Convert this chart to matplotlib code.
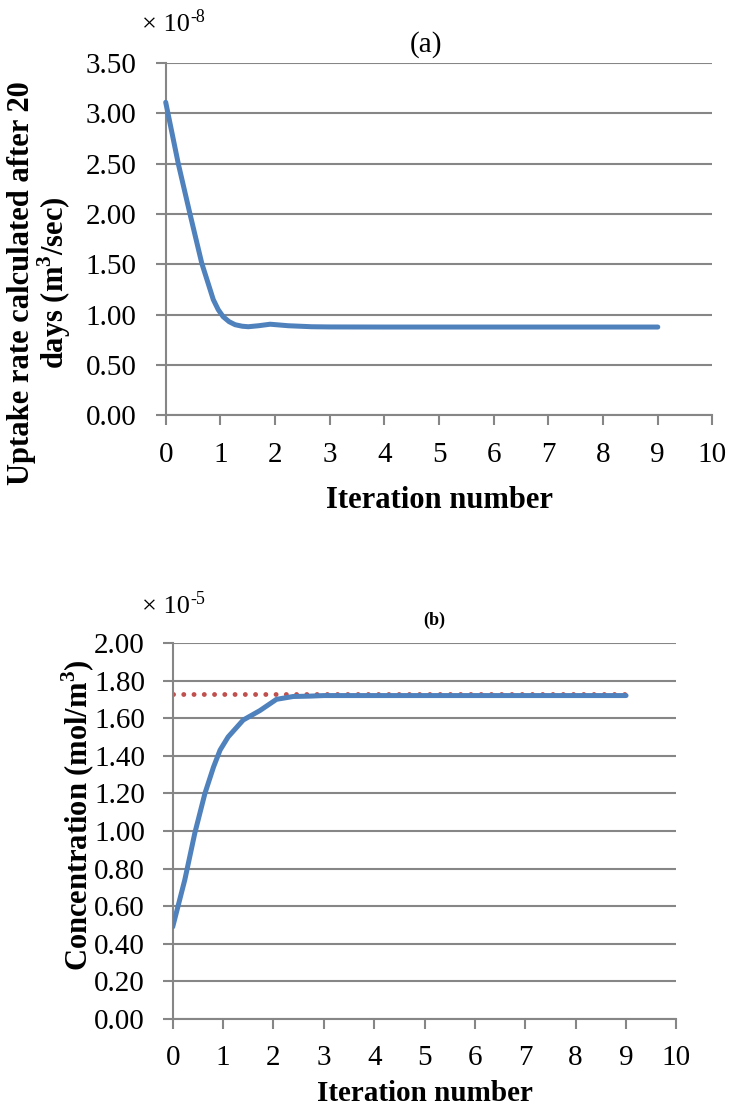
import numpy as np
import matplotlib
matplotlib.use("Agg")
import matplotlib.pyplot as plt

plt.rcParams['font.family'] = ['Liberation Serif', 'DejaVu Serif']
plt.rcParams['mathtext.fontset'] = 'custom'
plt.rcParams['mathtext.rm'] = 'Liberation Serif'
plt.rcParams['mathtext.bf'] = 'Liberation Serif:bold'

# (a) uptake rate, in units of 1e-8 m3/sec
iter_a = [0, 0.23, 0.44, 0.66, 0.87, 0.96, 1.05, 1.16, 1.27, 1.40, 1.51, 1.70, 1.91,
          2.24, 2.67, 3, 4, 5, 6, 7, 8, 9]
uptake_a = [3.11, 2.50, 2.01, 1.51, 1.15, 1.05, 0.98, 0.93, 0.90, 0.885, 0.88, 0.89, 0.905,
            0.89, 0.88, 0.878, 0.877, 0.877, 0.877, 0.877, 0.877, 0.877]

# (b) concentration, in units of 1e-5 mol/m3
iter_b = [0, 0.24, 0.44, 0.64, 0.81, 0.94, 1.10, 1.40, 1.73, 2.06, 2.39, 2.72,
          3, 4, 5, 6, 7, 8, 9]
conc_b = [0.49, 0.74, 0.99, 1.20, 1.34, 1.43, 1.50, 1.59, 1.64, 1.70, 1.715, 1.717,
          1.72, 1.72, 1.72, 1.72, 1.72, 1.72, 1.72]
ref_x = [0, 9]
ref_conc = [1.727, 1.727]

xticks = list(range(0, 11))
yticks_a = np.arange(0, 3.51, 0.5)
yticks_b = np.arange(0, 2.01, 0.2)

blue = '#4F81BD'
red = '#C0504D'
gray = '#868686'

fig = plt.figure(figsize=(7.3, 11.06), dpi=100)
ax1 = fig.add_axes([0.227, 0.6245, 0.749, 0.3185])
ax2 = fig.add_axes([0.2366, 0.0787, 0.690, 0.340])
renderer = fig.canvas.get_renderer()


def style(ax, yt, ymax, ypad):
    ax.set_xlim(0, 10)
    ax.set_ylim(0, ymax)
    ax.set_xticks(xticks)
    ax.set_yticks(yt)
    ax.set_yticklabels(['%.2f' % v for v in yt])
    for s in ['top', 'right']:
        ax.spines[s].set_visible(False)
    for s in ['left', 'bottom']:
        ax.spines[s].set_color(gray)
        ax.spines[s].set_linewidth(1.5)
    ax.grid(axis='y', color=gray, linewidth=1.5)
    ax.set_axisbelow(True)
    ax.tick_params(axis='both', colors=gray, width=1.5, length=7,
                   labelsize=21, labelcolor='black')
    ax.tick_params(axis='y', pad=ypad)
    ax.tick_params(axis='x', pad=12)


def exponent(x, y, power):
    t = fig.text(x, y, '\u00d7 10', fontsize=19, ha='left', va='center')
    bb = t.get_window_extent(renderer)
    fig.text((bb.x1 + 1) / 730, y + 7 / 1106, power, fontsize=13,
             ha='left', va='center')


style(ax1, yticks_a, 3.5, 14)
ax1.plot(iter_a, uptake_a, color=blue, linewidth=3.6, solid_capstyle='round',
         solid_joinstyle='round', clip_on=False, zorder=3)
ax1.set_xlabel('Iteration number', fontsize=22, fontweight='bold', labelpad=13)
fig.text(0.583, 1 - 45 / 1106, '(a)', fontsize=21, ha='center', va='center')
exponent(142 / 730, 1 - 25 / 1106, '-8')
fig.text(0.055, 1 - 283 / 1106, 'Uptake rate calculated after 20\ndays (m$^{\\mathbf{3}}$/sec)',
         fontsize=22, fontweight='bold', rotation=90, ha='center', va='center',
         multialignment='center', linespacing=1.0)

style(ax2, yticks_b, 2.0, 13)
ax2.plot(ref_x, ref_conc, color=red, linewidth=3.5, linestyle=(0, (0.01, 2.1)),
         dash_capstyle='round', zorder=2)
ax2.plot(iter_b, conc_b, color=blue, linewidth=3.6, solid_capstyle='round',
         solid_joinstyle='round', zorder=3)
ax2.set_xlabel('Iteration number', fontsize=21, fontweight='bold', labelpad=6)
fig.text(0.595, 1 - 620 / 1106, '(b)', fontsize=13, fontweight='bold',
         ha='center', va='center')
exponent(142 / 730, 1 - 607 / 1106, '-5')
fig.text(0.108, 1 - 815 / 1106, 'Concentration (mol/m$^{\\mathbf{3}}$)',
         fontsize=22, fontweight='bold', rotation=90, ha='center', va='center')

fig.savefig('out.png', dpi=100)
